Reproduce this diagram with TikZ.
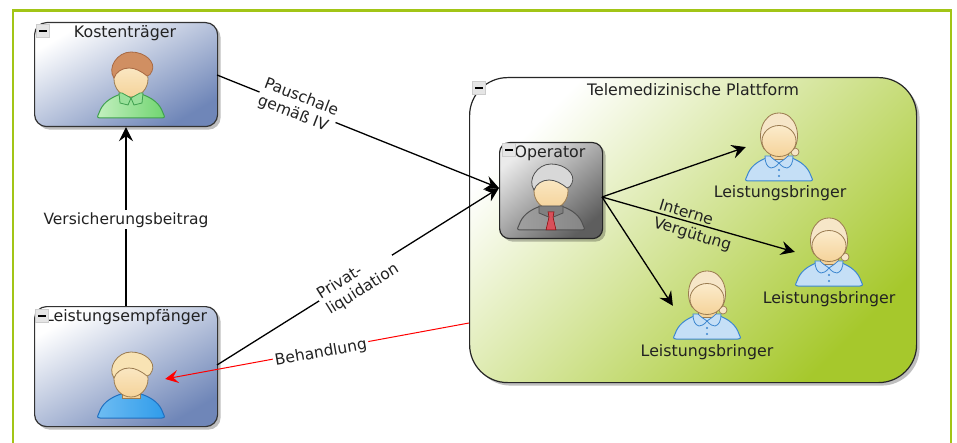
\documentclass[tikz,border=0pt]{standalone}
\usepackage{fontspec}
\setmainfont{DejaVu Sans}
\usetikzlibrary{arrows.meta,shadows,calc}
\definecolor{frameg}{HTML}{A2C516}
\definecolor{platg}{HTML}{A6C82C}
\definecolor{boxblue}{HTML}{6F86B8}
\definecolor{boxgray}{HTML}{5E5E5E}
\definecolor{txt}{HTML}{222222}
\definecolor{skinline}{HTML}{9A7B50}
\definecolor{skin}{HTML}{F5D39A}
\definecolor{skinl}{HTML}{FBEBCB}
\definecolor{gshirt}{HTML}{6FD46F}
\definecolor{gshirtl}{HTML}{C4F0C0}
\definecolor{gline}{HTML}{3FA04F}
\definecolor{bshirt}{HTML}{2E9BEA}
\definecolor{bshirtl}{HTML}{6FBDF3}
\definecolor{bline}{HTML}{1F6FC0}
\definecolor{gyshirt}{HTML}{858585}
\definecolor{gyshirtl}{HTML}{A0A0A0}
\definecolor{gyline}{HTML}{505050}
\definecolor{wshirt}{HTML}{C5DFF6}
\definecolor{wline}{HTML}{3C86CF}
\definecolor{hairb}{HTML}{D08F62}
\definecolor{hairbl}{HTML}{A86A44}
\definecolor{hairy}{HTML}{F8E3B4}
\definecolor{hairg}{HTML}{D8D8D8}
\definecolor{hairw}{HTML}{F6E6C8}
\definecolor{tie}{HTML}{D8505A}
\tikzset{
  x=1pt,y=-1pt,line join=round,
  every node/.style={text=txt,font=\fontsize{15.8}{17}\selectfont,inner sep=1pt},
  softshadow/.style={drop shadow={shadow xshift=3pt,shadow yshift=-3pt,opacity=.25,fill=black}},
  bluebox/.style={draw=black!80,line width=1.2pt,rounded corners=12pt,softshadow,
     shading=axis,left color=white,right color=boxblue,shading angle=30,
     minimum width=183pt,anchor=north west,inner sep=0pt},
  greenbox/.style={draw=black!85,line width=1.2pt,rounded corners=38pt,softshadow,
     shading=axis,left color=white,right color=platg,shading angle=45,
     minimum width=447pt,minimum height=305pt,anchor=north west,inner sep=0pt},
  graybox/.style={draw=black!85,line width=1.2pt,rounded corners=10pt,softshadow,
     shading=axis,left color=black!8,right color=boxgray,shading angle=40,
     minimum width=103pt,minimum height=96pt,anchor=north west,inner sep=0pt},
  conn/.style={draw=black,line width=1.3pt,-{Stealth[length=14pt,width=14pt,inset=5pt]}},
  redconn/.style={draw=red,line width=1pt,-{Stealth[length=13pt,width=13pt,inset=5pt]}},
  minusbox/.style={draw=black!20,fill=black!10,minimum size=13pt,inner sep=0pt,
     path picture={\fill[black] ($(path picture bounding box.center)+(-4pt,-1pt)$) rectangle +(8pt,2pt);}},
  anchorpt/.style={inner sep=0pt,minimum size=0pt},
  lab/.style={align=left,font=\fontsize{15.5}{18}\selectfont},
  bgl/.style={fill=white,inner sep=2pt},
}
% x, baseline y, shirt light, shirt, line
\newcommand{\bodyshape}[5]{%
  \shade[left color=#3,right color=#4,draw=#5,line width=1pt]
    (#1-31,#2) .. controls (#1-35,#2) and (#1-33,#2-3) .. (#1-32,#2-5)
    .. controls (#1-29,#2-14) and (#1-22,#2-20) .. (#1-10,#2-24)
    -- (#1+10,#2-24) .. controls (#1+22,#2-20) and (#1+29,#2-14) .. (#1+32,#2-5)
    .. controls (#1+33,#2-3) and (#1+35,#2) .. (#1+31,#2) -- cycle;}
% x, y, hair, hairline
\newcommand{\manhead}[4]{%
  \fill[skin,draw=skinline,line width=.8pt] (#1-9,#2-32) rectangle (#1+9,#2-20);
  \shade[top color=skinl,bottom color=skin,draw=skinline,line width=.8pt]
     (#1,#2-39) ellipse [x radius=17pt,y radius=18pt];
  \fill[#3,draw=#4,line width=.8pt]
     (#1-17,#2-40) .. controls (#1-24,#2-50) and (#1-14,#2-66) .. (#1,#2-66)
     .. controls (#1+14,#2-66) and (#1+25,#2-56) .. (#1+21,#2-47)
     .. controls (#1+20,#2-44) and (#1+18,#2-42) .. (#1+16,#2-42)
     .. controls (#1+10,#2-47) and (#1+4,#2-50) .. (#1-2,#2-50)
     .. controls (#1-9,#2-50) and (#1-15,#2-46) .. (#1-17,#2-40) -- cycle;}
\newcommand{\woman}[2]{%
  \bodyshape{#1}{#2}{wshirt}{wshirt}{wline}
  \fill[hairw,draw=skinline,line width=.7pt] (#1+16,#2-29) circle [radius=4pt];
  \fill[skin,draw=skinline,line width=.7pt] (#1-9,#2-32) rectangle (#1+9,#2-22);
  \fill[wshirt,draw=wline,line width=.8pt] (#1-14,#2-25) -- (#1-9,#2-25) .. controls (#1-6,#2-22) and (#1-3,#2-20) .. (#1,#2-18) .. controls (#1-3,#2-14) and (#1-6,#2-13) .. (#1-8,#2-13) .. controls (#1-12,#2-14) and (#1-14,#2-18) .. (#1-14,#2-25) -- cycle;
  \fill[wshirt,draw=wline,line width=.8pt] (#1+14,#2-25) -- (#1+9,#2-25) .. controls (#1+6,#2-22) and (#1+3,#2-20) .. (#1,#2-18) .. controls (#1+3,#2-14) and (#1+6,#2-13) .. (#1+8,#2-13) .. controls (#1+12,#2-14) and (#1+14,#2-18) .. (#1+14,#2-25) -- cycle;
  \fill[wline] (#1,#2-11) circle [radius=1.1pt] (#1,#2-5) circle [radius=1.1pt];
  \fill[hairw,draw=skinline,line width=.8pt]
     (#1-15,#2-32) .. controls (#1-23,#2-45) and (#1-17,#2-68) .. (#1,#2-68)
     .. controls (#1+17,#2-68) and (#1+23,#2-45) .. (#1+15,#2-32) -- cycle;
  \shade[top color=skinl,bottom color=skin,draw=skinline,line width=.8pt]
     (#1,#2-40) ellipse [x radius=17pt,y radius=15.5pt];}
\begin{document}
\begin{tikzpicture}
\useasboundingbox (0,0) rectangle (957,443);
\fill[white] (0,0) rectangle (957,443);
\draw[frameg,line width=2.6pt] (13,443) -- (13,10.5) -- (951,10.5) -- (951,443);

% containers
\node[bluebox,minimum height=104pt] (kosten) at (34,22) {};
\node[bluebox,minimum height=120pt] (empf) at (34,306) {};
\node[greenbox] (plat) at (469,77) {};
\node[graybox] (oper) at (499,142) {};

% connector ends
\node[anchorpt] (lbA) at (746,147) {};
\node[anchorpt] (lbB) at (795,252) {};
\node[anchorpt] (lbC) at (673,306) {};
\node[anchorpt] (empfP) at (165,379) {};
\coordinate (redStart) at (469,323);
\coordinate (kA) at (217,75);
\coordinate (eA) at (217,365);
\coordinate (oIn) at (499,188);
\coordinate (oOut) at (602,197);

% people
\bodyshape{131}{118}{gshirtl}{gshirt}{gline}
\manhead{131}{118}{hairb}{hairbl}
\fill[gshirt!70!white,draw=gline,line width=.8pt] (119,93) -- (122,93) -- (131,98) -- (128,105) -- (120,103) -- cycle;
\fill[gshirt!70!white,draw=gline,line width=.8pt] (143,93) -- (140,93) -- (131,98) -- (134,105) -- (142,103) -- cycle;
\bodyshape{131}{418}{bshirtl}{bshirt}{bline}
\manhead{131}{418}{hairy}{skinline}
\bodyshape{551}{230}{gyshirtl}{gyshirt}{gyline}
\manhead{551}{230}{hairg}{gyline}
\fill[black!50,draw=gyline,line width=.8pt] (539,206) -- (563,206) -- (563,213) -- (551,218) -- (539,213) -- cycle;
\fill[tie,draw=red!50!black,line width=.5pt] (548,212) -- (554,212) -- (553,217) -- (556,230) -- (546,230) -- (549,217) -- cycle;
\woman{779}{181}
\woman{829}{286}
\woman{707}{339}

% connectors
\draw[conn] (kA) -- (oIn);
\draw[conn] (eA) -- (oIn);
\draw[conn] (empf.north -| 126,306) -- (kosten.south -| 126,126);
\draw[conn] (oOut) -- (lbA);
\draw[conn] (oOut) -- (lbB);
\draw[conn] (oOut) -- (lbC);
\draw[redconn] (redStart) -- (empfP);

% labels
\node[lab,rotate=-21,bgl] (l1) at (298,106) {Pauschale\\gemäß IV};
\node[lab,rotate=32,bgl] (l2) at (358,282) {Privat-\\liquidation};
\node[lab,bgl] (l3) at (126,220) {Versicherungsbeitrag};
\node[lab,rotate=10,bgl] (l4) at (321,353) {Behandlung};
\node[lab,rotate=-17,font=\fontsize{15.5}{19}\selectfont] (l5) at (695,226) {Interne\\Vergütung};

% titles
\node (t1) at (125,33.5) {Kostenträger};
\node (t2) at (126,317.5) {Leistungsempfänger};
\node (t3) at (693,89.5) {Telemedizinische Plattform};
\node (t4) at (550,153.5) {Operator};
\node (t5) at (780,193.5) {Leistungsbringer};
\node (t6) at (829,299.5) {Leistungsbringer};
\node (t7) at (707,352.5) {Leistungsbringer};

% collapse icons
\node[minusbox] (m1) at (43,31) {};
\node[minusbox] (m2) at (42,316) {};
\node[minusbox] (m3) at (479,88) {};
\node[minusbox] (m4) at (509,150) {};
\end{tikzpicture}
\end{document}
